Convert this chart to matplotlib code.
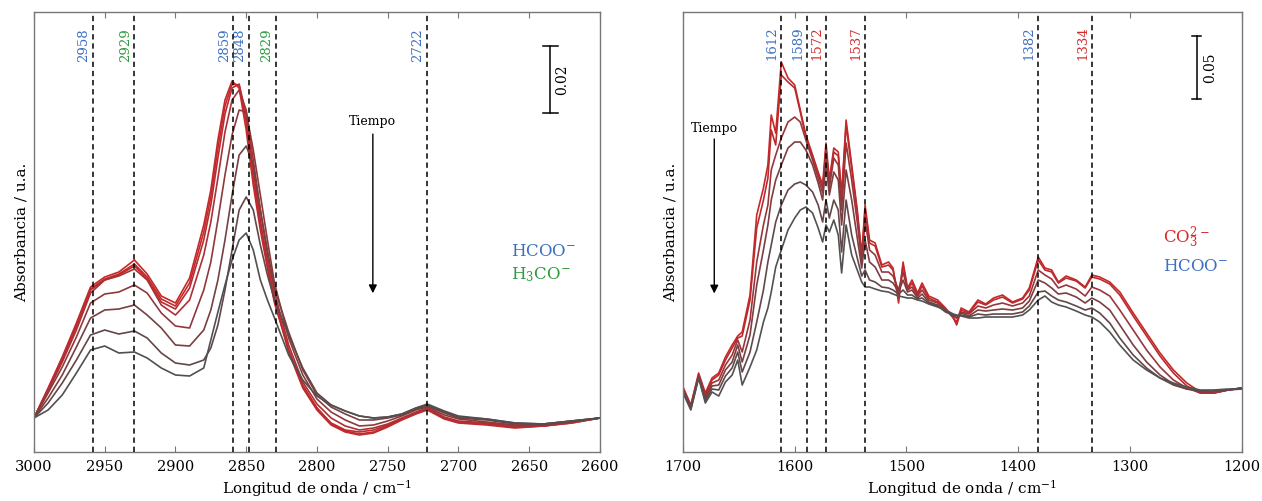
import matplotlib
matplotlib.use("Agg")
import matplotlib.pyplot as plt

plt.rcParams['font.family'] = 'DejaVu Serif'
plt.rcParams['mathtext.fontset'] = 'dejavuserif'

## C-H region (absorbance in mAbs, baseline at 3000 cm-1)
wn_ch = [3000, 2990, 2980, 2970, 2960, 2950, 2940, 2929, 2920, 2910, 2900, 2890, 2880, 2875,
         2870, 2865, 2860, 2855, 2850, 2845, 2840, 2835, 2830, 2820, 2810, 2800, 2790, 2780,
         2770, 2760, 2750, 2740, 2730, 2722, 2710, 2700, 2680, 2660, 2640, 2620, 2600]
ch_1 = [0, 9.0, 18.3, 28.5, 39.3, 42.3, 43.8, 47.4, 43.2, 36.6, 34.5, 42.0, 57.9, 68.4,
        83.4, 95.4, 101.1, 99.0, 86.4, 69.9, 56.4, 45.0, 34.5, 20.4, 9.9, 3.0, -1.8, -3.9,
        -4.8, -4.2, -2.4, -0.3, 1.5, 2.7, 0, -1.2, -1.8, -2.7, -2.4, -1.5, 0]
ch_2 = [0, 8.7, 18.0, 27.9, 38.7, 41.7, 43.2, 46.2, 42.3, 35.7, 33.6, 40.5, 55.8, 66.3,
        81.0, 93.6, 100.2, 99.9, 88.8, 72.0, 57.9, 45.9, 35.4, 19.8, 9.0, 2.4, -2.1, -4.2,
        -5.1, -4.5, -2.7, -0.6, 1.2, 2.4, -0.3, -1.5, -2.1, -3.0, -2.4, -1.5, 0]
ch_3 = [0, 8.4, 17.4, 27.3, 38.4, 41.4, 42.9, 45.6, 41.7, 34.8, 32.7, 39.0, 53.4, 63.9,
        78.0, 91.2, 99.0, 100.2, 90.9, 74.4, 59.4, 46.8, 36.0, 20.4, 9.6, 3.0, -1.5, -3.6,
        -4.2, -3.6, -2.1, -0.3, 1.5, 2.7, 0, -1.2, -1.8, -2.7, -2.4, -1.2, 0]
ch_4 = [0, 8.1, 16.8, 26.4, 37.5, 41.4, 42.6, 44.7, 41.4, 33.9, 30.9, 35.4, 48.9, 58.8,
        72.0, 85.8, 95.4, 98.4, 92.4, 77.4, 62.4, 48.9, 37.8, 21.9, 10.8, 4.2, 0, -2.4,
        -3.6, -3.0, -1.8, 0, 1.8, 3.0, 0.3, -0.9, -1.5, -2.4, -2.1, -1.2, 0]
ch_5 = [0, 7.5, 15.3, 24.3, 34.5, 37.2, 37.8, 39.9, 37.5, 31.5, 27.6, 27.0, 38.4, 46.8,
        59.4, 72.9, 84.9, 92.4, 91.8, 80.4, 66.9, 53.4, 40.5, 24.0, 12.9, 5.7, 1.8, -0.6,
        -2.4, -2.1, -0.9, 0.6, 2.4, 3.3, 0.9, -0.3, -1.2, -2.1, -2.1, -1.2, 0]
ch_6 = [0, 6.0, 12.9, 21.3, 30.0, 32.4, 32.7, 33.9, 30.9, 27.0, 21.9, 21.6, 26.4, 32.4,
        41.4, 53.4, 66.9, 78.9, 81.6, 75.9, 62.4, 50.4, 39.0, 25.8, 14.4, 6.9, 3.3, 1.2,
        -0.6, -0.6, 0, 0.9, 2.7, 3.6, 1.5, 0, -0.6, -1.8, -1.8, -0.9, 0]
ch_7 = [0, 4.5, 10.5, 17.4, 24.9, 26.4, 25.2, 26.1, 24.0, 19.5, 16.5, 15.9, 17.4, 21.0,
        27.9, 38.4, 50.4, 62.4, 66.3, 62.4, 51.9, 42.9, 35.4, 24.9, 15.0, 7.5, 3.9, 2.1,
        0.6, 0, 0.3, 1.2, 3.0, 3.9, 1.8, 0.3, -0.3, -1.5, -1.8, -0.9, 0]
ch_8 = [0, 2.4, 6.9, 13.5, 20.4, 21.6, 19.5, 19.8, 18.0, 15.0, 12.9, 12.6, 15.0, 23.4,
        31.8, 39.9, 47.4, 53.4, 55.5, 50.4, 41.4, 35.4, 30.0, 18.9, 11.4, 6.6, 3.9, 2.1,
        0.6, 0, 0.3, 1.2, 3.0, 4.2, 2.1, 0.6, -0.3, -1.5, -1.8, -0.9, 0]

## O-C-O region (mAbs, baseline at 1200 cm-1)
wn_oc = [1700, 1693, 1686, 1680, 1674, 1668, 1662, 1656, 1651, 1647,
         1640, 1634, 1628, 1624, 1621, 1617, 1612, 1606, 1600, 1595,
         1590, 1584, 1579, 1575, 1572, 1569, 1565, 1561, 1558, 1554,
         1549, 1544, 1540, 1537, 1533, 1528, 1522, 1516, 1512, 1507,
         1503, 1499, 1495, 1490, 1486, 1480, 1472, 1465, 1458, 1455,
         1451, 1444, 1436, 1429, 1422, 1414, 1405, 1396, 1390, 1382,
         1376, 1370, 1364, 1357, 1348, 1340, 1334, 1327, 1318, 1309,
         1297, 1285, 1273, 1261, 1249, 1237, 1225, 1212, 1200]
oc_1 = [2.4, -12.0, 13.6, -2.4, 9.6, 13.6, 26.4, 36.0, 43.2, 46.4,
        76.0, 140.0, 161.6, 180.0, 220.0, 205.6, 262.4, 249.6, 244.0, 224.0,
        204.0, 188.0, 174.4, 164.0, 197.6, 168.0, 193.6, 190.4, 156.0, 216.0,
        180.0, 144.0, 108.0, 148.0, 120.0, 117.6, 100.0, 102.4, 97.6, 69.6,
        102.4, 81.6, 88.0, 77.6, 85.6, 75.2, 72.0, 65.6, 57.6, 54.4,
        65.6, 62.4, 72.0, 68.8, 73.6, 76.0, 70.4, 73.6, 81.6, 106.4,
        97.6, 96.0, 86.4, 91.2, 88.0, 82.4, 92.0, 90.4, 86.4, 78.4,
        61.6, 45.6, 29.6, 16.0, 5.6, -1.6, -2.4, 0, 1.6]
oc_2 = [1.6, -12.8, 12.0, -4.0, 8.0, 12.0, 24.0, 33.6, 41.6, 43.2,
        72.0, 129.6, 152.0, 169.6, 208.0, 196.0, 252.0, 246.4, 241.6, 222.4,
        202.4, 186.4, 172.8, 161.6, 193.6, 165.6, 190.4, 187.2, 153.6, 212.0,
        177.6, 141.6, 106.4, 144.0, 117.6, 115.2, 98.4, 100.0, 96.0, 75.2,
        100.0, 80.0, 85.6, 76.0, 83.2, 73.6, 70.4, 64.8, 57.6, 52.0,
        64.0, 61.6, 70.4, 68.0, 72.0, 74.4, 69.6, 72.8, 80.0, 104.0,
        96.0, 94.4, 85.6, 89.6, 87.2, 81.6, 90.4, 88.8, 84.8, 76.0,
        59.2, 43.2, 27.2, 13.6, 3.2, -2.4, -2.4, 0, 1.6]
oc_3 = [0.8, -13.6, 11.2, -5.6, 5.6, 8.0, 20.0, 28.0, 40.0, 30.4,
        56.0, 102.4, 132.0, 148.0, 176.0, 188.0, 201.6, 214.4, 218.4, 214.4,
        200.0, 184.0, 169.6, 157.6, 192.0, 161.6, 185.6, 180.0, 144.0, 197.6,
        168.0, 134.4, 102.4, 136.0, 112.0, 108.0, 94.4, 94.4, 91.2, 80.0,
        94.4, 80.0, 82.4, 75.2, 80.0, 72.0, 69.6, 64.0, 59.2, 57.6,
        62.4, 60.8, 67.2, 65.6, 68.0, 69.6, 67.2, 69.6, 75.2, 96.0,
        92.0, 88.8, 81.6, 84.0, 80.8, 75.2, 82.4, 80.0, 75.2, 64.0,
        48.0, 32.0, 18.4, 8.0, 1.6, -2.4, -2.4, 0, 1.6]
oc_4 = [0, -14.4, 10.4, -7.2, 3.2, 4.0, 16.0, 22.4, 36.0, 22.4,
        44.0, 84.0, 112.0, 132.0, 152.0, 168.0, 180.0, 193.6, 198.4, 198.4,
        192.0, 180.0, 165.6, 152.0, 181.6, 156.0, 174.4, 168.0, 132.0, 176.0,
        152.0, 121.6, 97.6, 120.0, 102.4, 98.4, 88.0, 88.0, 85.6, 78.4,
        88.0, 78.4, 80.0, 73.6, 76.8, 70.4, 68.0, 63.2, 59.2, 57.6,
        61.6, 59.2, 64.0, 63.2, 64.0, 64.8, 64.0, 65.6, 71.2, 88.0,
        85.6, 81.6, 76.8, 77.6, 74.4, 69.6, 73.6, 70.4, 64.0, 52.0,
        36.0, 22.4, 12.0, 4.8, 0.8, -0.8, -0.8, 0, 1.6]
oc_5 = [-0.8, -15.2, 10.4, -8.8, 0.8, 0, 11.2, 17.6, 30.4, 14.4,
        30.4, 54.4, 80.0, 102.4, 116.0, 134.4, 148.0, 160.0, 164.8, 166.4,
        164.0, 158.4, 148.0, 134.4, 152.0, 137.6, 152.0, 144.0, 110.4, 152.0,
        124.0, 105.6, 91.2, 96.0, 88.0, 86.4, 82.4, 81.6, 80.0, 76.8,
        80.0, 76.0, 76.0, 72.8, 73.6, 69.6, 67.2, 62.4, 60.0, 59.2,
        60.0, 58.4, 60.8, 60.0, 60.8, 60.8, 60.8, 62.4, 67.2, 78.4,
        79.2, 75.2, 72.0, 70.4, 67.2, 64.0, 65.6, 61.6, 53.6, 41.6,
        28.0, 17.6, 9.6, 4.0, 0.8, -0.8, -0.8, 0, 0.8]
oc_6 = [-2.4, -16.0, 9.6, -10.4, -1.6, -4.8, 6.4, 12.0, 24.0, 4.0,
        18.4, 32.0, 54.4, 65.6, 78.4, 98.4, 112.0, 128.0, 137.6, 144.0,
        146.4, 141.6, 129.6, 118.4, 132.0, 126.4, 136.0, 124.0, 93.6, 132.0,
        108.0, 96.0, 86.4, 82.4, 82.4, 80.8, 79.2, 78.4, 76.8, 75.2,
        74.4, 73.6, 73.6, 72.0, 71.2, 68.8, 66.4, 64.0, 60.8, 60.0,
        59.2, 57.6, 57.6, 58.4, 58.4, 58.4, 58.4, 60.0, 64.0, 72.0,
        75.2, 70.4, 68.0, 66.4, 63.2, 60.0, 58.4, 54.4, 46.4, 36.0,
        24.0, 16.0, 9.6, 5.6, 2.4, 0, 0, 0.8, 0.8]

## band assignments
ch_bands = [2958, 2929, 2859, 2848, 2829, 2722]
ch_band_colors = ['#3d6fc0', '#2f9b3f', '#3d6fc0', '#3d6fc0', '#2f9b3f', '#3d6fc0']
oc_bands = [1612, 1589, 1572, 1537, 1382, 1334]
oc_band_colors = ['#3d6fc0', '#3d6fc0', '#d42b2b', '#d42b2b', '#3d6fc0', '#d42b2b']

ch_curves = [ch_1, ch_2, ch_3, ch_4, ch_5, ch_6, ch_7, ch_8]
ch_colors = ['#c62828', '#c22a2c', '#ba2c30', '#a83236', '#8f393c', '#774042', '#624748', '#505050']
oc_curves = [oc_1, oc_2, oc_3, oc_4, oc_5, oc_6]
oc_colors = ['#c62828', '#bc2a2d', '#9a353a', '#7c3e41', '#624849', '#525252']

BLUE = '#3d6fc0'
GREEN = '#2f9b3f'
RED = '#d42b2b'

fig = plt.figure(figsize=(12.62, 5.01), dpi=100)
ax1 = fig.add_axes([0.0269, 0.0978, 0.4485, 0.8782])
ax2 = fig.add_axes([0.5412, 0.0978, 0.4426, 0.8782])


def style(ax, xlim, ylim, ticks):
    ax.set_xlim(*xlim)
    ax.set_ylim(*ylim)
    ax.set_xticks(ticks)
    ax.set_yticks([])
    ax.tick_params(axis='x', direction='in', top=True, length=4, width=0.8,
                   color='#777777', labelsize=10.5, pad=6)
    for s in ax.spines.values():
        s.set_color('#777777')
        s.set_linewidth(1.0)
    ax.set_xlabel('Longitud de onda / cm$^{-1}$', fontsize=11, labelpad=3)
    ax.set_ylabel('Absorbancia / u.a.', fontsize=11, labelpad=4)


def bands(ax, pos, cols, yfrac):
    for w, c in zip(pos, cols):
        ax.axvline(w, color='k', lw=1.1, ls=(0, (3.5, 2.5)), zorder=5)
        ax.annotate(str(w), xy=(w, yfrac), xycoords=('data', 'axes fraction'),
                    xytext=(-2, 0), textcoords='offset points', rotation=90,
                    ha='right', va='bottom', color=c, fontsize=9.5)


# left panel
for y, c in zip(ch_curves, ch_colors):
    ax1.plot(wn_ch, y, color=c, lw=1.2)
style(ax1, (3000, 2600), (-10.2, 121.8), range(3000, 2599, -50))
bands(ax1, ch_bands, ch_band_colors, 0.886)

ax1.plot([2635, 2635], [91.5, 111.5], color='k', lw=1.1)
ax1.plot([2640, 2630], [91.5, 91.5], color='k', lw=1.1)
ax1.plot([2640, 2630], [111.5, 111.5], color='k', lw=1.1)
ax1.text(2627, 101.5, '0.02', rotation=90, ha='center', va='center', fontsize=10)

ax1.text(2760.5, 87, 'Tiempo', ha='center', va='bottom', fontsize=9)
ax1.annotate('', xy=(2760.5, 36.6), xytext=(2760.5, 86),
             arrowprops=dict(arrowstyle='-|>', color='k', lw=1.0, mutation_scale=12))
ax1.text(2663, 50, 'HCOO$^{-}$', color=BLUE, fontsize=12, va='center', ha='left')
ax1.text(2663, 43, 'H$_{3}$CO$^{-}$', color=GREEN, fontsize=12, va='center', ha='left')

# right panel
for y, c in zip(oc_curves, oc_colors):
    ax2.plot(wn_oc, y, color=c, lw=1.2)
style(ax2, (1700, 1200), (-49.6, 302.4), range(1700, 1199, -100))
bands(ax2, oc_bands, oc_band_colors, 0.89)

ax2.plot([1240, 1240], [233, 283], color='k', lw=1.1)
ax2.plot([1244, 1236], [233, 233], color='k', lw=1.1)
ax2.plot([1244, 1236], [283, 283], color='k', lw=1.1)
ax2.text(1228, 258, '0.05', rotation=90, ha='center', va='center', fontsize=10)

ax2.text(1672, 204, 'Tiempo', ha='center', va='bottom', fontsize=9)
ax2.annotate('', xy=(1672, 75), xytext=(1672, 203),
             arrowprops=dict(arrowstyle='-|>', color='k', lw=1.0, mutation_scale=12))
ax2.text(1270, 122, 'CO$_{3}^{2-}$', color=RED, fontsize=12, va='center', ha='left')
ax2.text(1270, 99, 'HCOO$^{-}$', color=BLUE, fontsize=12, va='center', ha='left')

fig.savefig('out.png', dpi=100)
